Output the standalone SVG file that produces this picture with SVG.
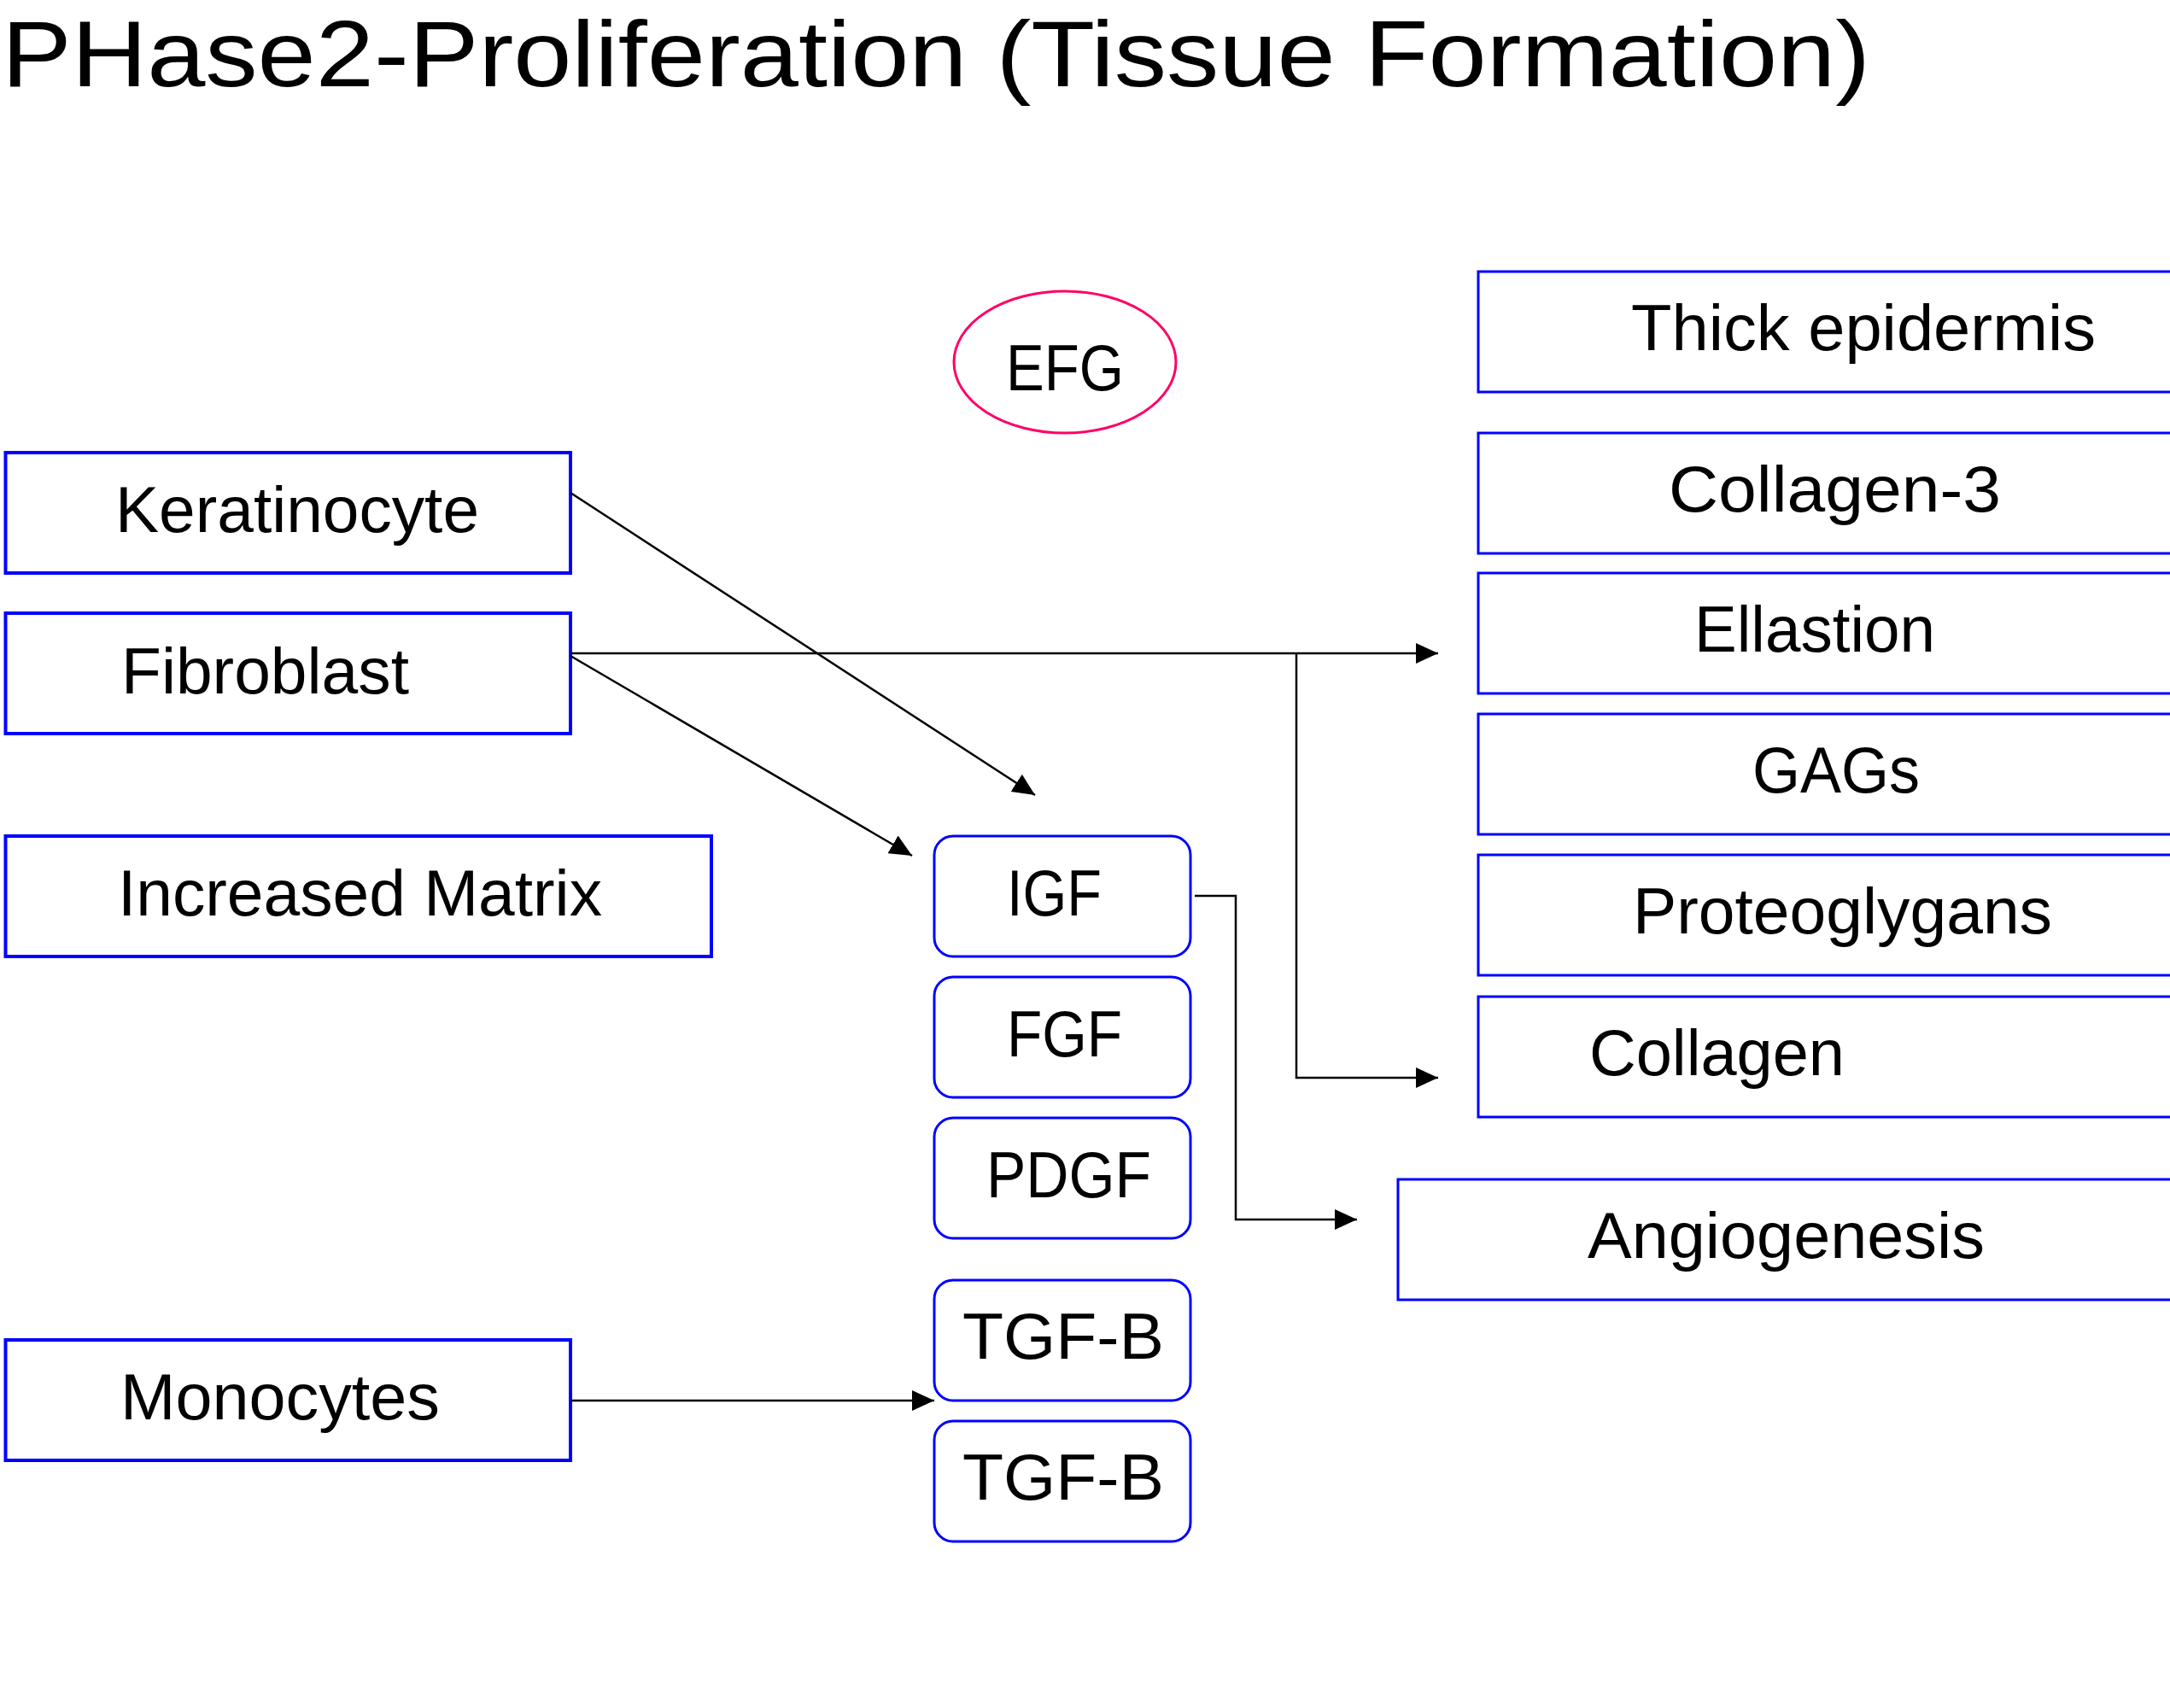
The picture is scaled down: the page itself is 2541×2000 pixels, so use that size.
<svg xmlns="http://www.w3.org/2000/svg" width="2541" height="2000" viewBox="0 0 2541 2000">
<style>
text{font-family:"Liberation Sans",Arial,sans-serif;fill:#000;font-size:76px}
.title{font-size:110px}
.lbox{fill:#fff;stroke:#0000ff;stroke-width:4}
.rbox{fill:#fff;stroke:#0000ff;stroke-width:3}
.gbox{fill:#fff;stroke:#0000ff;stroke-width:3}
.oval{fill:#fff;stroke:#ff0066;stroke-width:3}
.conn{fill:none;stroke:#000;stroke-width:2.5}
</style>
<defs>
<marker id="arr" markerUnits="userSpaceOnUse" markerWidth="26" markerHeight="24" refX="26" refY="12" orient="auto" viewBox="0 0 26 24">
<path d="M0,0 L26,12 L0,24 z" fill="#000"/>
</marker>
</defs>
<rect width="2541" height="2000" fill="#fff"/>
<text class="title" x="2" y="101" textLength="2188" lengthAdjust="spacingAndGlyphs">PHase2-Proliferation (Tissue Formation)</text>

<g id="keratinocyte"><rect class="lbox" x="6.5" y="530" width="661.5" height="141"/><text x="135" y="623" textLength="426" lengthAdjust="spacingAndGlyphs">Keratinocyte</text></g>
<g id="fibroblast"><rect class="lbox" x="6.5" y="718" width="661.5" height="141"/><text x="142" y="812" textLength="337" lengthAdjust="spacingAndGlyphs">Fibroblast</text></g>
<g id="increased-matrix"><rect class="lbox" x="6.5" y="979" width="826.5" height="141"/><text x="138" y="1072" textLength="567" lengthAdjust="spacingAndGlyphs">Increased Matrix</text></g>
<g id="monocytes"><rect class="lbox" x="6.5" y="1569" width="661.5" height="141"/><text x="141" y="1662" textLength="374" lengthAdjust="spacingAndGlyphs">Monocytes</text></g>

<g id="efg"><ellipse class="oval" cx="1247" cy="424" rx="130" ry="83"/><text x="1178" y="457" textLength="138" lengthAdjust="spacingAndGlyphs">EFG</text></g>

<g id="igf"><rect class="gbox" x="1094" y="979" width="300" height="141" rx="22" ry="22"/><text x="1179" y="1072" textLength="111" lengthAdjust="spacingAndGlyphs">IGF</text></g>
<g id="fgf"><rect class="gbox" x="1094" y="1144" width="300" height="141" rx="22" ry="22"/><text x="1179" y="1237" textLength="135" lengthAdjust="spacingAndGlyphs">FGF</text></g>
<g id="pdgf"><rect class="gbox" x="1094" y="1309" width="300" height="141" rx="22" ry="22"/><text x="1155" y="1402" textLength="193" lengthAdjust="spacingAndGlyphs">PDGF</text></g>
<g id="tgfb1"><rect class="gbox" x="1094" y="1499" width="300" height="141" rx="22" ry="22"/><text x="1127" y="1591" textLength="236" lengthAdjust="spacingAndGlyphs">TGF-B</text></g>
<g id="tgfb2"><rect class="gbox" x="1094" y="1664" width="300" height="141" rx="22" ry="22"/><text x="1127" y="1756" textLength="236" lengthAdjust="spacingAndGlyphs">TGF-B</text></g>

<g id="thick-epidermis"><rect class="rbox" x="1731" y="318" width="900" height="141"/><text x="1910" y="410" textLength="544" lengthAdjust="spacingAndGlyphs">Thick epidermis</text></g>
<g id="collagen-3"><rect class="rbox" x="1731" y="507" width="900" height="141"/><text x="1954" y="599" textLength="389" lengthAdjust="spacingAndGlyphs">Collagen-3</text></g>
<g id="ellastion"><rect class="rbox" x="1731" y="671" width="900" height="141"/><text x="1984" y="763" textLength="282" lengthAdjust="spacingAndGlyphs">Ellastion</text></g>
<g id="gags"><rect class="rbox" x="1731" y="836" width="900" height="141"/><text x="2052" y="928" textLength="196" lengthAdjust="spacingAndGlyphs">GAGs</text></g>
<g id="proteoglygans"><rect class="rbox" x="1731" y="1001" width="900" height="141"/><text x="1912" y="1093" textLength="491" lengthAdjust="spacingAndGlyphs">Proteoglygans</text></g>
<g id="collagen"><rect class="rbox" x="1731" y="1167" width="900" height="141"/><text x="1861" y="1259" textLength="299" lengthAdjust="spacingAndGlyphs">Collagen</text></g>
<g id="angiogenesis"><rect class="rbox" x="1637" y="1381" width="1000" height="141"/><text x="1859" y="1473" textLength="465" lengthAdjust="spacingAndGlyphs">Angiogenesis</text></g>

<g id="connectors">
<path class="conn" d="M668,577 L1212,931" marker-end="url(#arr)"/>
<path class="conn" d="M668,765 L1684,765" marker-end="url(#arr)"/>
<path class="conn" d="M1518,765 L1518,1262 L1684,1262" marker-end="url(#arr)"/>
<path class="conn" d="M668,768 L1068,1002" marker-end="url(#arr)"/>
<path class="conn" d="M1399,1049 L1447,1049 L1447,1428 L1589,1428" marker-end="url(#arr)"/>
<path class="conn" d="M668,1640 L1094,1640" marker-end="url(#arr)"/>
</g>
</svg>
